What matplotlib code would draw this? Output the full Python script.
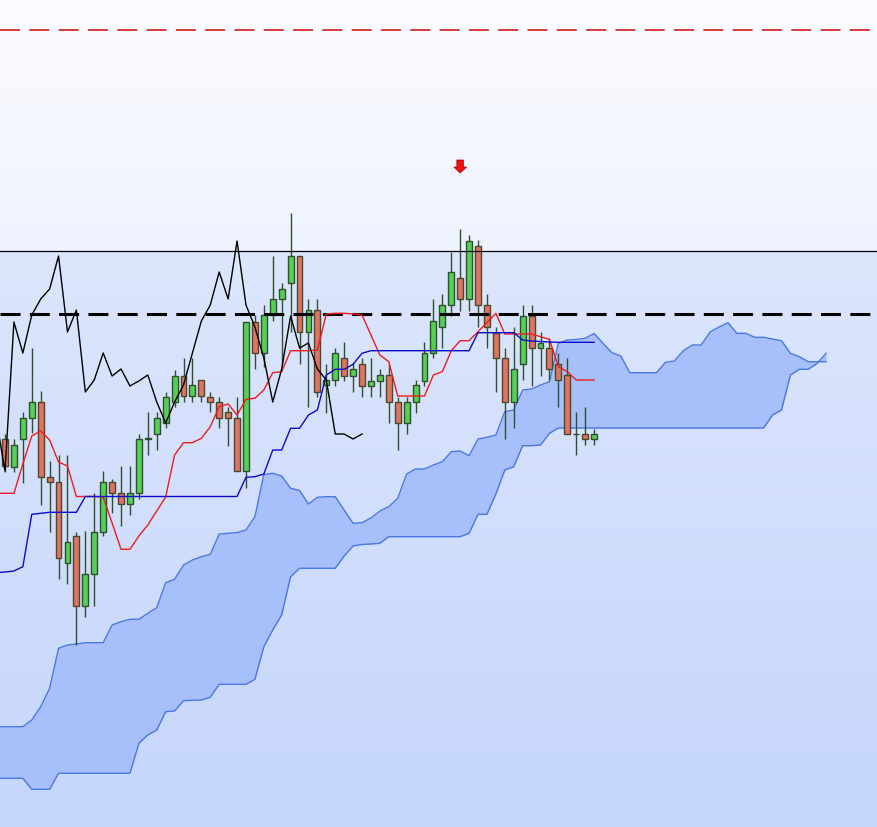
import numpy as np
import matplotlib
matplotlib.use("Agg")
import matplotlib.pyplot as plt
from matplotlib.colors import to_rgb

# -----------------------------
# 1. Candle data (price units)
# -----------------------------
opens = [388, 360, 388, 409, 425, 350, 345, 264, 291, 221, 253, 295, 345, 334, 323, 334, 388,
         393, 404, 425, 451, 431, 447, 430, 425, 415, 409, 356, 505, 474, 512, 528, 544, 571,
         495, 517, 442, 447, 469, 451, 463, 441, 446, 452, 425, 404, 425, 446, 474, 500, 522,
         549, 528, 581, 522, 494, 469, 425, 463, 511, 479, 479, 463, 452, 393, 393, 388]
highs = [393, 388, 415, 479, 436, 366, 372, 372, 295, 296, 334, 356, 348, 361, 361, 393, 415,
         415, 435, 457, 469, 469, 447, 435, 430, 420, 430, 505, 512, 522, 571, 544, 614, 571,
         528, 528, 463, 479, 485, 464, 469, 469, 458, 463, 430, 430, 447, 485, 528, 533, 575,
         598, 592, 587, 533, 500, 479, 500, 522, 522, 495, 489, 474, 469, 415, 420, 398]
lows = [355, 355, 344, 394, 322, 295, 248, 243, 182, 210, 221, 291, 314, 301, 312, 328, 372,
        377, 399, 420, 425, 425, 425, 415, 399, 381, 356, 339, 458, 460, 506, 461, 495, 463,
        420, 430, 414, 441, 446, 435, 430, 430, 430, 404, 377, 393, 414, 441, 469, 479, 511,
        516, 516, 500, 479, 435, 388, 399, 447, 441, 451, 447, 420, 393, 372, 382, 382]
closes = [361, 382, 409, 425, 350, 345, 269, 285, 221, 253, 295, 345, 334, 323, 334, 388, 389,
          409, 430, 451, 431, 442, 431, 425, 409, 409, 356, 505, 474, 512, 528, 538, 571, 495,
          517, 435, 447, 474, 451, 458, 441, 446, 452, 425, 404, 425, 442, 474, 506, 522, 555,
          528, 586, 522, 500, 469, 425, 458, 511, 479, 484, 458, 447, 393, 393, 388, 393]

# -----------------------------
# 2. Ichimoku lines
# -----------------------------
# tenkan / kijun start one bar before the first visible candle
tenkan = [333.7, 333.7, 333.7, 363, 391, 396, 387, 365, 361, 330.5, 330.5, 330.5, 330, 304,
          277.7, 277.7, 291, 302, 316, 330, 372, 384.3, 384.3, 388.7, 400.3, 420.3, 423, 412,
          427.7, 428.7, 437, 454.3, 455.3, 476.3, 476.3, 476.3, 477, 513, 513.7, 513.7, 513,
          512, 492, 472, 465.3, 431, 431, 431, 431, 452, 455.3, 476.3, 486.3, 486.3, 495.3,
          504.5, 513.7, 493, 493, 493, 493, 490.3, 487.7, 460.3, 455.3, 447, 447, 447]
kijun = [254.3, 255, 256, 260.3, 312.7, 313.7, 314.7, 314.7, 314.7, 314.7, 330.5, 330.5, 330.5,
         330.5, 330.5, 330.5, 330.5, 330.5, 330.5, 330.5, 330.5, 330.5, 330.5, 330.5, 330.5,
         330.5, 330.5, 330.5, 349.7, 350.3, 353, 377, 377, 398.7, 398.7, 412, 417, 452, 457.7,
         457.7, 462.7, 473.7, 476.3, 476.3, 476.3, 476.3, 476.3, 476.3, 476.3, 476.3, 476.3,
         476.3, 476.3, 476.3, 494.3, 494.3, 494.3, 494.3, 494.3, 487, 486, 485.5, 485, 484.7,
         484.7, 484.7, 484.7, 484.7]

# senkou spans start one bar left of the first candle and run 26 bars past the last
span_a = [100.3, 100.3, 100.3, 100.3, 107, 120.3, 138.7, 178.7, 182, 183, 184.3, 184.3, 184.3,
          202, 205.3, 207.7, 207.7, 213.7, 219.3, 244.3, 247.7, 262, 267, 270.3, 272.7, 293,
          293.7, 294.5, 297, 310.3, 352.5, 353.7, 351, 338.7, 336.5, 323, 329.7, 330.3, 330.3,
          317, 303.7, 304.3, 309, 316, 320.3, 328.7, 353, 358, 358, 362, 365.3, 375.3, 376,
          371.3, 388, 389.7, 392, 415.3, 417, 437, 438, 442, 445.3, 483.7, 487, 487.5, 488.7,
          493.5, 483.7, 474.3, 471, 454.3, 454.3, 454.3, 454.3, 464.7, 466, 476.3, 482, 482,
          495, 500, 504.3, 493.7, 493.7, 489.7, 489.7, 488, 486.3, 473.7, 470.3, 465.3, 465.3,
          465.3]
span_b = [48.7, 48.7, 48.7, 48.7, 37.7, 37.7, 37.7, 53.7, 53.7, 53.7, 53.7, 53.7, 53.7, 53.7,
          53.7, 53.7, 83.7, 92, 97, 115.3, 116, 126.3, 126.7, 127, 129.7, 142.7, 142.7, 142.7,
          142.7, 147.7, 180.3, 197, 212, 250.3, 258.7, 258.7, 258.7, 258.7, 258.7, 271, 281,
          282.5, 283, 283.7, 290.3, 290.3, 290.3, 290.3, 290.3, 290.3, 290.3, 290.3, 290.3,
          293.7, 312.7, 312.7, 333, 357, 360.3, 381.3, 381.3, 382, 393.7, 399, 399, 399, 399,
          399, 399, 399, 399, 399, 399, 399, 399, 399, 399, 399, 399, 399, 399, 399, 399, 399,
          399, 399, 399, 412, 417, 452, 457.7, 457.7, 463.7, 473.7]

# horizontal levels and signal
resistance_level = 576
pivot_level = 513
target_level = 797
sell_signal_bar = 51
sell_signal_top = 667

# -----------------------------
# 3. Figure
# -----------------------------
fig = plt.figure(figsize=(8.77, 8.27), dpi=100)
ax = fig.add_axes([0, 0, 1, 1])
x_min, x_max = -0.56, 97.7
y_min, y_max = 0, 827
ax.set_xlim(x_min, x_max)
ax.set_ylim(y_min, y_max)
ax.axis("off")

# background: light gradient above the resistance line, bluer gradient below
rows = np.linspace(y_min, y_max, 827)
top_lo, top_hi = np.array(to_rgb("#eff3fe")), np.array(to_rgb("#fbfcff"))
bot_lo, bot_hi = np.array(to_rgb("#c5d5fb")), np.array(to_rgb("#dce6fd"))
grad = np.zeros((len(rows), 1, 3))
for k, yv in enumerate(rows):
    if yv >= resistance_level:
        t = (yv - resistance_level) / (y_max - resistance_level)
        grad[k, 0] = top_lo + (top_hi - top_lo) * t
    else:
        t = (yv - y_min) / (resistance_level - y_min)
        grad[k, 0] = bot_lo + (bot_hi - bot_lo) * t
ax.imshow(grad, extent=(x_min, x_max, y_min, y_max), origin="lower", aspect="auto", zorder=0)

# cloud
cx = np.arange(-1, len(span_a) - 1)
ax.fill_between(cx, span_a, span_b, color="#a7bffa", lw=0, zorder=1)
ax.plot(cx, span_a, color="#4a78e4", lw=1, zorder=2)
ax.plot(cx, span_b, color="#4a78e4", lw=1, zorder=2)

# candles
idx = np.arange(len(closes))
o, h, l, c = map(np.array, (opens, highs, lows, closes))
up = c >= o
wick_col = "#2f4f2f"
ax.vlines(idx, l, h, color=wick_col, lw=1, zorder=3)
body_h = np.where(np.abs(c - o) < 0.5, 0.01, np.abs(c - o))
ax.bar(idx[up], body_h[up], bottom=np.minimum(o, c)[up], width=0.66,
       color="#55d055", edgecolor=wick_col, linewidth=1, zorder=4)
ax.bar(idx[~up], body_h[~up], bottom=np.minimum(o, c)[~up], width=0.66,
       color="#e07464", edgecolor="#4a4a2a", linewidth=1, zorder=4)

# levels
ax.axhline(target_level, color="#d42a2a", lw=1.3, ls=(0, (14.4 / 1.3, 6.7 / 1.3)), zorder=5)
ax.axhline(resistance_level, color="black", lw=0.9, zorder=5)
ax.axhline(pivot_level, color="black", lw=2.2, ls=(0, (14.4 / 2.2, 6.7 / 2.2)), zorder=5)

# tenkan / kijun / chikou
line_x = np.arange(-1, len(closes))
ax.plot(line_x, tenkan, color="#ee1c1c", lw=1, zorder=6)
ax.plot(line_x, kijun, color="#0b0bc8", lw=1, zorder=6)
chikou_x = np.arange(-1, len(closes) - 26)
ax.plot(chikou_x, closes[25:], color="black", lw=1, zorder=6)

# sell signal arrow
ax.arrow(sell_signal_bar, sell_signal_top, 0, -13, width=0.75, head_width=1.45,
         head_length=6, length_includes_head=True, fc="#ee1111", ec="#b00000",
         lw=0.5, zorder=7)

fig.savefig("out.png", dpi=100)
